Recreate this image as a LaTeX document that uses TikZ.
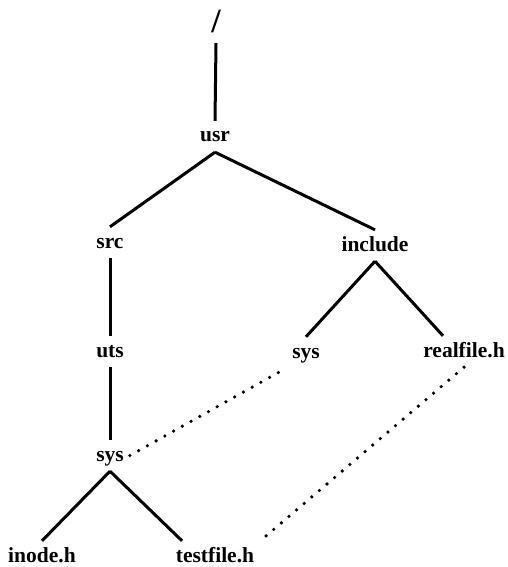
\documentclass[tikz,border=0pt]{standalone}
\usepackage{fontspec}
\setmainfont{Liberation Serif}
\usepackage{tikz}
\usetikzlibrary{positioning,calc}

\begin{document}
\begin{tikzpicture}[x=1pt, y=-1pt,
  file/.style={anchor=base, inner sep=6pt, text height=15pt, text depth=4pt, font=\fontsize{21.5}{24}\bfseries},
  edge/.style={line width=3pt},
  link/.style={line width=3.6pt, line cap=round, dash pattern=on 0pt off 10pt}]
\useasboundingbox (0,0) rectangle (508,567);
% directory tree
\node[file, font=\fontsize{34}{36}\bfseries] (root) at (216,33) {/};
\node[file] (usr) at (215,142) {usr};
\node[file] (src) at (110,248) {src};
\node[file] (incl) at (375,251) {include};
\node[file] (uts) at (110,357) {uts};
\node[file] (sysinc) at (306,358) {sys};
\node[file] (realfile) at (464,357) {realfile.h};
\node[file] (syssrc) at (110,461) {sys};
\node[file] (inode) at (42,562) {inode.h};
\node[file] (testfile) at (215,562) {testfile.h};
\draw[edge] (root.south) -- (usr.north);
\draw[edge] (usr.south) -- (src.north); \draw[edge] (usr.south) -- (incl.north);
\draw[edge] (src.south) -- (uts.north);
\draw[edge] (uts.south) -- (syssrc.north);
\draw[edge] (incl.south) -- (sysinc.north); \draw[edge] (incl.south) -- ([xshift=-21pt]realfile.north);
\draw[edge] (syssrc.south) -- (inode.north); \draw[edge] (syssrc.south) -- ([xshift=-33pt]testfile.north);
% links
\draw[link] (syssrc.east) -- (sysinc.south west);
\draw[link] (realfile.south) -- (testfile.north east);
\end{tikzpicture}
\end{document}
